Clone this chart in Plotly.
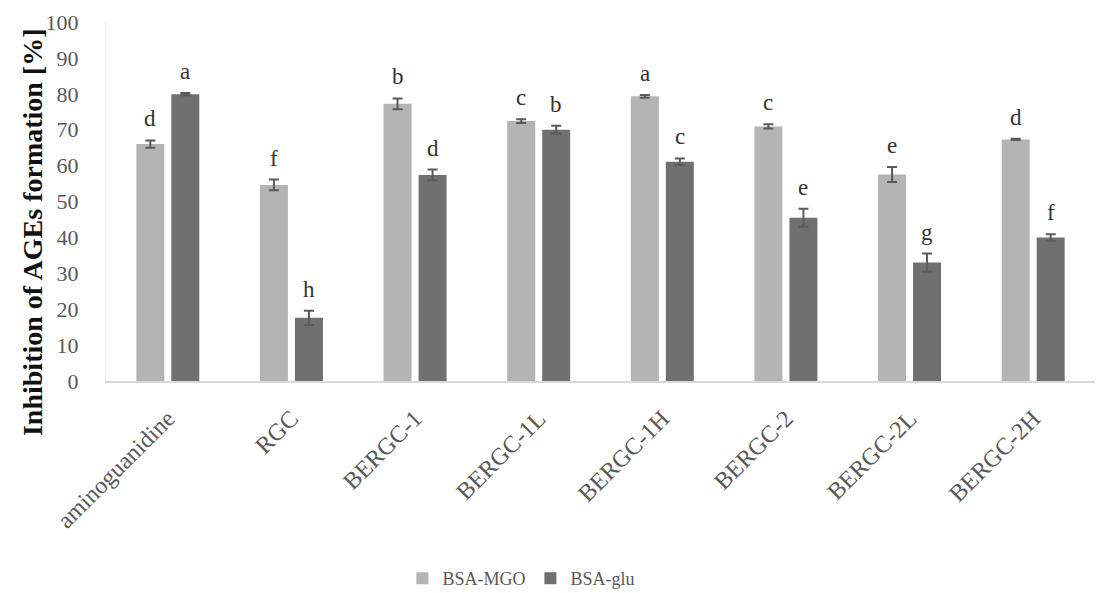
import plotly.graph_objects as go

categories = ["aminoguanidine", "RGC", "BERGC-1", "BERGC-1L", "BERGC-1H",
              "BERGC-2", "BERGC-2L", "BERGC-2H"]
mgo_values = [66.0, 54.6, 77.2, 72.4, 79.3, 70.9, 57.5, 67.3]
mgo_errors = [1.0, 1.5, 1.5, 0.5, 0.4, 0.6, 2.1, 0.2]
mgo_letters = ["d", "f", "b", "c", "a", "c", "e", "d"]
glu_values = [79.9, 17.6, 57.4, 70.0, 61.1, 45.5, 33.0, 40.0]
glu_errors = [0.3, 2.0, 1.5, 1.1, 0.9, 2.5, 2.5, 0.9]
glu_letters = ["a", "h", "d", "b", "c", "e", "g", "f"]
y_ticks = list(range(0, 101, 10))

FONT = "Liberation Serif, DejaVu Serif, serif"
ERR_COLOR = "#5a5a5a"

fig = go.Figure()
fig.add_trace(go.Bar(
    name="BSA-MGO", x=categories, y=mgo_values,
    marker=dict(color="#b4b4b4", line=dict(width=0)),
    error_y=dict(type="data", array=mgo_errors, color=ERR_COLOR, thickness=2, width=5),
))
fig.add_trace(go.Bar(
    name="BSA-glu", x=categories, y=glu_values,
    marker=dict(color="#707070", line=dict(width=0)),
    error_y=dict(type="data", array=glu_errors, color=ERR_COLOR, thickness=2, width=5),
))

annotations = []
for i, c in enumerate(categories):
    annotations.append(dict(x=c, y=mgo_values[i] + mgo_errors[i], text=mgo_letters[i],
                            xref="x", yref="y", showarrow=False, xshift=-17.5,
                            yanchor="bottom", yshift=7,
                            font=dict(family=FONT, size=23, color="#333333")))
    annotations.append(dict(x=c, y=glu_values[i] + glu_errors[i], text=glu_letters[i],
                            xref="x", yref="y", showarrow=False, xshift=17.5,
                            yanchor="bottom", yshift=7,
                            font=dict(family=FONT, size=23, color="#333333")))

annotations.append(dict(text="<b>Inhibition of AGEs formation [%]</b>",
                        xref="paper", yref="paper", x=-0.0748, y=0.415,
                        xanchor="center", yanchor="middle", textangle=-90,
                        showarrow=False,
                        font=dict(family=FONT, size=28, color="#111111")))

fig.update_layout(
    width=1099, height=593,
    margin=dict(l=106, r=4, t=22, b=212, autoexpand=False),
    paper_bgcolor="white", plot_bgcolor="white",
    barmode="group", bargap=0.434, bargroupgap=0.2,
    font=dict(family=FONT, color="#595959"),
    annotations=annotations,
    legend=dict(orientation="h", x=0.42, xanchor="center", y=-0.55, yanchor="middle",
                font=dict(family=FONT, size=18, color="#595959"),
                itemwidth=30, traceorder="normal"),
    xaxis=dict(tickangle=-45, tickfont=dict(family=FONT, size=24, color="#595959"),
               showline=True, linecolor="#d9d9d9", linewidth=2, showgrid=False,
               ticks="outside", ticklen=12, tickcolor="rgba(0,0,0,0)", automargin=False),
    yaxis=dict(range=[0, 100], tickvals=y_ticks, showgrid=False,
               tickfont=dict(family=FONT, size=22, color="#595959"),
               showline=True, linecolor="#ececec", linewidth=1, zeroline=False,
               ticks="outside", ticklen=22, tickcolor="rgba(0,0,0,0)",
               ticklabelposition="outside", automargin=False),
)

fig.write_html("out.html", config={"displayModeBar": False},
               post_script="document.body.style.margin='0';document.body.style.overflow='hidden';")
